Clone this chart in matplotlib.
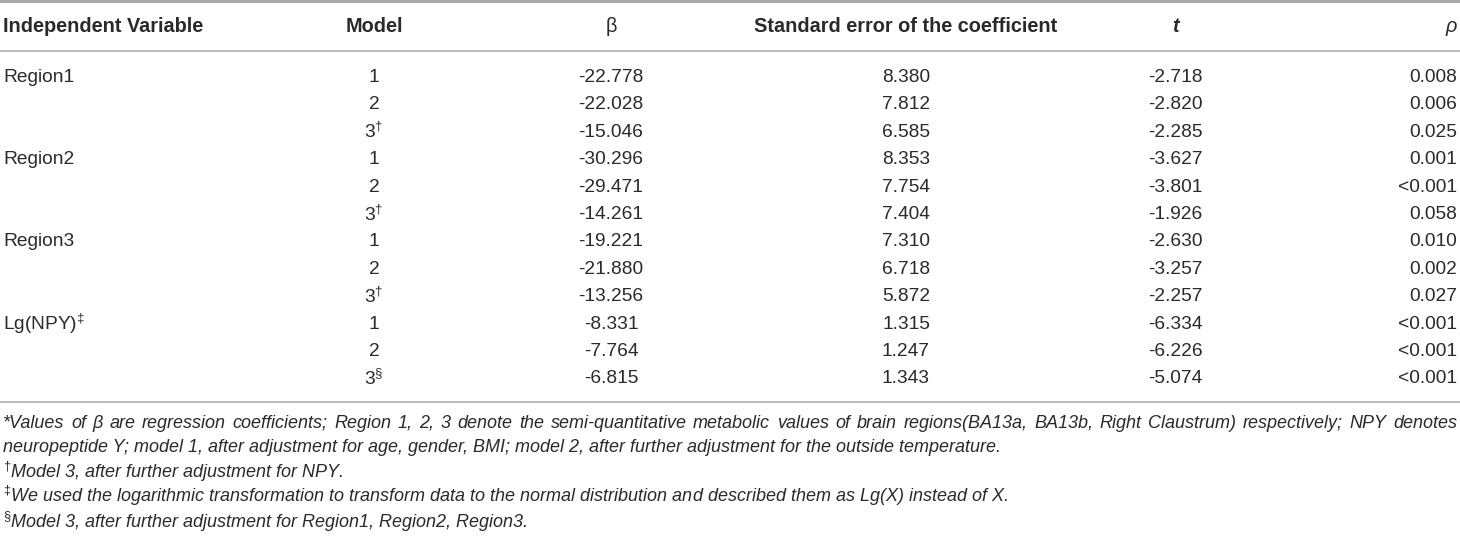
import matplotlib
matplotlib.use("Agg")
import matplotlib.pyplot as plt
from matplotlib.lines import Line2D

plt.rcParams['font.family'] = ['Liberation Sans', 'DejaVu Sans']
plt.rcParams['mathtext.fontset'] = 'custom'
plt.rcParams['mathtext.rm'] = 'Liberation Sans'
plt.rcParams['mathtext.it'] = 'Liberation Sans:italic'
plt.rcParams['mathtext.bf'] = 'Liberation Sans:bold'

# table data
headers = ["Independent Variable", "Model", "β", "Standard error of the coefficient", "t", "ρ"]
variables = ["Region1", "", "", "Region2", "", "", "Region3", "", "", "Lg(NPY)$^{\\mathrm{‡}}$", "", ""]
models = ["1", "2", "3$^{\\mathrm{†}}$", "1", "2", "3$^{\\mathrm{†}}$",
          "1", "2", "3$^{\\mathrm{†}}$", "1", "2", "3$^{\\mathrm{§}}$"]
beta = ["-22.778", "-22.028", "-15.046", "-30.296", "-29.471", "-14.261",
        "-19.221", "-21.880", "-13.256", "-8.331", "-7.764", "-6.815"]
se = ["8.380", "7.812", "6.585", "8.353", "7.754", "7.404",
      "7.310", "6.718", "5.872", "1.315", "1.247", "1.343"]
tval = ["-2.718", "-2.820", "-2.285", "-3.627", "-3.801", "-1.926",
        "-2.630", "-3.257", "-2.257", "-6.334", "-6.226", "-5.074"]
pval = ["0.008", "0.006", "0.025", "0.001", "<0.001", "0.058",
        "0.010", "0.002", "0.027", "<0.001", "<0.001", "<0.001"]

foot1 = ("*Values of β are regression coefficients; Region 1, 2, 3 denote the semi-quantitative metabolic values "
         "of brain regions(BA13a, BA13b, Right Claustrum) respectively; NPY denotes")
foot2 = ("neuropeptide Y; model 1, after adjustment for age, gender, BMI; model 2, after further adjustment "
         "for the outside temperature.")
foot3 = "$^{\\mathit{†}}$Model 3, after further adjustment for NPY."
foot4 = ("$^{\\mathit{‡}}$We used the logarithmic transformation to transform data to the normal distribution "
         "and described them as Lg(X) instead of X.")
foot5 = "$^{\\mathit{§}}$Model 3, after further adjustment for Region1, Region2, Region3."

W, H = 1460, 537
fig = plt.figure(figsize=(14.6, 5.37), dpi=100)
txt = "#2a2a2a"
rule = "#a8a8a8"

def fx(x):
    return x / W

def fy(y):
    return 1 - y / H

def hline(y, lw):
    fig.add_artist(Line2D([0, 1], [fy(y), fy(y)], color=rule, lw=lw, transform=fig.transFigure))

hline(1.3, 2.2)
hline(51, 1.1)
hline(402, 1.1)

# column x positions (pixels) and alignment
cols = [(3, "left"), (374, "center"), (611, "center"), (906, "center"), (1175, "center"), (1457, "right")]
fs = 13.8
hfs = 14.3

# header
hy = 27
for i, (h, (x, ha)) in enumerate(zip(headers, cols)):
    kw = dict(fontsize=hfs, ha=ha, va="center", color=txt, weight="bold")
    if i == 2:
        kw["weight"] = "normal"
    if i >= 4:
        kw["style"] = "italic"
    if i == 5:
        kw["weight"] = "normal"
    fig.text(fx(x), fy(hy), h, **kw)

# body rows
y0, dy = 77.5, 27.4
for r in range(len(models)):
    y = y0 + r * dy
    row = [variables[r], models[r], beta[r], se[r], tval[r], pval[r]]
    for val, (x, ha) in zip(row, cols):
        if val:
            fig.text(fx(x), fy(y), val, fontsize=fs, ha=ha, va="center", color=txt)

# footnotes, placed on baselines so the justified words line up
ffs = 13.0
base = 6.5
renderer = fig.canvas.get_renderer()

def justify(text, y, x0, x1):
    words = text.split()
    arts = [fig.text(0, fy(y + base), w, fontsize=ffs, style="italic", va="baseline", color=txt)
            for w in words]
    widths = [a.get_window_extent(renderer).width for a in arts]
    gap = (x1 - x0 - sum(widths)) / (len(words) - 1)
    x = x0
    for a, w in zip(arts, widths):
        a.set_x(fx(x))
        x += w + gap

justify(foot1, 421, 3, 1457)
for y, t in zip([446, 471, 496, 521], [foot2, foot3, foot4, foot5]):
    fig.text(fx(3), fy(y + base), t, fontsize=ffs, style="italic", va="baseline", color=txt)

fig.savefig("out.png", dpi=100)
